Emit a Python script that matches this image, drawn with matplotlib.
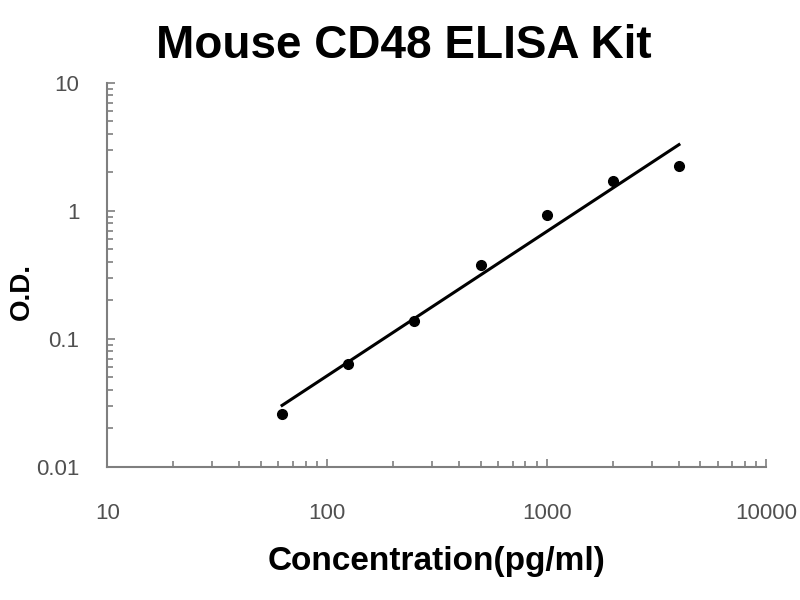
import numpy as np
import matplotlib
matplotlib.use('Agg')
import matplotlib.pyplot as plt
from matplotlib.ticker import LogLocator, FixedLocator, NullFormatter

plt.rcParams['font.family'] = ['Liberation Sans', 'DejaVu Sans']

# Standard curve data
conc = [62.5, 125, 250, 500, 1000, 2000, 4000]
od = [0.026, 0.063, 0.138, 0.38, 0.93, 1.72, 2.24]
x_ticks = [10, 100, 1000, 10000]
x_labels = ['10', '100', '1000', '10000']
y_ticks = [0.01, 0.1, 1, 10]
y_labels = ['0.01', '0.1', '1', '10']

# Power fit (straight line on log-log)
slope, icpt = np.polyfit(np.log10(conc), np.log10(od), 1)
fit_x = np.array([conc[0], conc[-1]])
fit_y = 10 ** (icpt + slope * np.log10(fit_x))

fig = plt.figure(figsize=(8, 6), dpi=100)
ax = fig.add_axes([0.134, 0.222, 0.824, 0.64])

ax.plot(fit_x, fit_y, color='black', lw=2.2, zorder=2)
ax.plot(conc, od, 'o', color='black', ms=7, zorder=3)

ax.set_xscale('log')
ax.set_yscale('log')
ax.set_xlim(10, 10000)
ax.set_ylim(0.01, 10)

ax.xaxis.set_major_locator(FixedLocator(x_ticks))
ax.set_xticklabels(x_labels)
ax.yaxis.set_major_locator(FixedLocator(y_ticks))
ax.set_yticklabels(y_labels)
ax.xaxis.set_minor_locator(LogLocator(base=10, subs=np.arange(2, 10)))
ax.yaxis.set_minor_locator(LogLocator(base=10, subs=np.arange(2, 10)))
ax.xaxis.set_minor_formatter(NullFormatter())
ax.yaxis.set_minor_formatter(NullFormatter())

for s in ['top', 'right']:
    ax.spines[s].set_visible(False)
for s in ['left', 'bottom']:
    ax.spines[s].set_color('#7f7f7f')
    ax.spines[s].set_linewidth(1.5)

ax.tick_params(which='both', direction='in', color='#7f7f7f', width=1.2)
ax.tick_params(which='major', length=6, labelsize=16, labelcolor='#505050')
ax.tick_params(which='minor', length=4)
ax.tick_params(axis='x', which='major', pad=26)
ax.tick_params(axis='y', which='major', pad=20)

ax.set_xlabel('Concentration(pg/ml)', fontsize=24, fontweight='bold', labelpad=16)
fig.text(22 / 800, 1 - 292 / 600, 'O.D.', fontsize=20, fontweight='bold',
         rotation=90, ha='center', va='center')
fig.suptitle('Mouse CD48 ELISA Kit', fontsize=33, fontweight='bold', x=0.505, y=0.96)

fig.savefig('out.png', dpi=100)
